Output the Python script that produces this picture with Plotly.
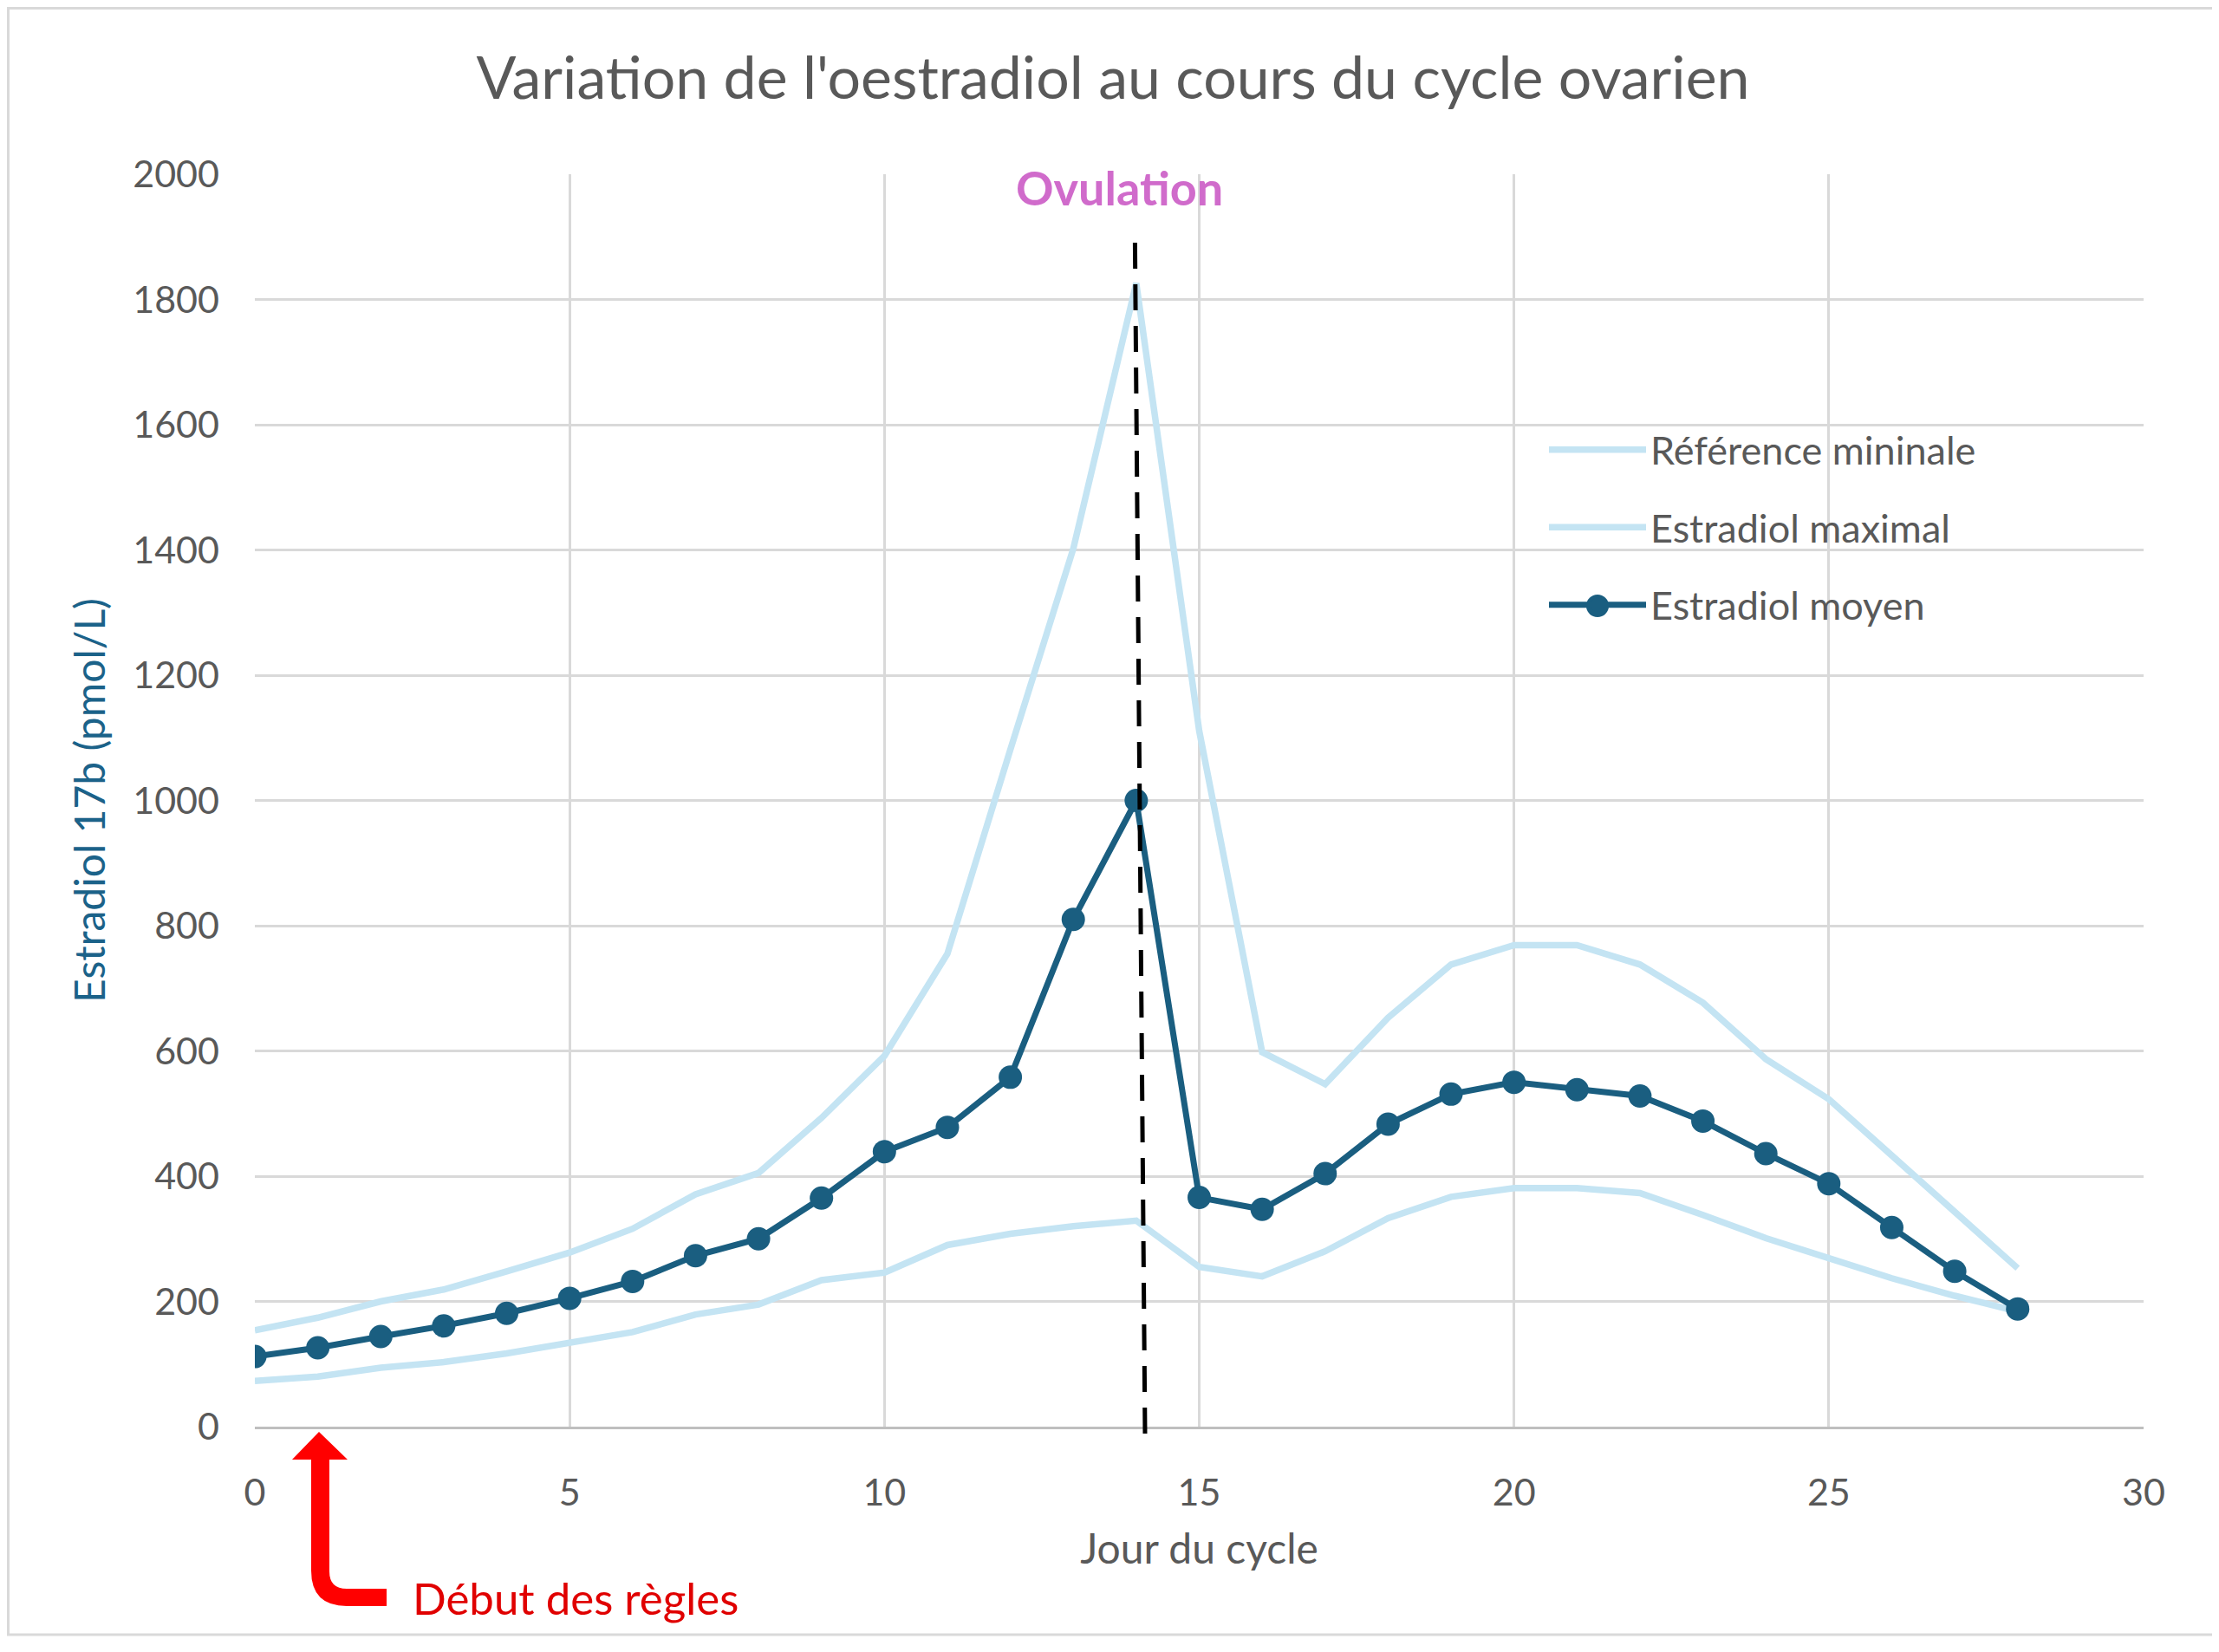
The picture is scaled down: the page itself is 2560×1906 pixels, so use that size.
import plotly.graph_objects as go

# ---------------- data ----------------
days = list(range(0, 29))
estradiol_min = [73, 80, 94, 103, 117, 133, 151, 179, 195, 234, 246, 290, 308, 320, 329,
                 255, 240, 280, 333, 367, 381, 381, 373, 338, 301, 269, 237, 209, 184]
estradiol_max = [154, 174, 200, 219, 248, 278, 316, 371, 405, 493, 592, 755, 1081, 1402, 1826,
                 1111, 598, 547, 653, 738, 769, 769, 738, 677, 587, 523, 433, 343, 253]
estradiol_mean = [112, 126, 144, 161, 181, 205, 232, 273, 300, 365, 439, 478, 558, 810, 1000,
                  366, 347, 404, 483, 531, 550, 538, 528, 488, 436, 388, 318, 248, 188]

series_names = ["Référence mininale", "Estradiol maximal", "Estradiol moyen"]
x_ticks = [0, 5, 10, 15, 20, 25, 30]
y_ticks = list(range(0, 2001, 200))

title_text = "Variation de l'oestradiol au cours du cycle ovarien"
x_title = "Jour du cycle"
y_title = "Estradiol 17b (pmol/L)"
ovulation_label = "Ovulation"
regles_label = "Début des règles"
ovulation_day = 14

# ---------------- layout geometry ----------------
OFF = 8  # page body margin
W, H = 2560 - OFF, 1906 - OFF
L, R, T, B = 294 - OFF, 87, 201 - OFF, 260
PW, PH = W - L - R, H - T - B

def px_x(p):
    return (p - OFF - L) / PW

def px_y(p):
    return (H - B - (p - OFF)) / PH

FONT = "Lato"
GRAY = "#595959"
DARK = "#1A5E80"
LIGHT = "#C4E4F3"
GRID = "#D9D9D9"

fig = go.Figure()
fig.add_trace(go.Scatter(x=days, y=estradiol_min, mode="lines", name=series_names[0],
                         legendgroup="a", line=dict(color=LIGHT, width=7.5)))
fig.add_trace(go.Scatter(x=days, y=estradiol_max, mode="lines", name=series_names[1],
                         legendgroup="b", line=dict(color=LIGHT, width=7.5)))
fig.add_trace(go.Scatter(x=days, y=estradiol_mean, mode="lines+markers", name=series_names[2],
                         legendgroup="c", line=dict(color=DARK, width=7),
                         marker=dict(color=DARK, size=27)))

# dashed ovulation line
fig.add_shape(type="line", xref="x", yref="paper",
              x0=ovulation_day - 0.02, y0=px_y(280), x1=ovulation_day + 0.14, y1=px_y(1660),
              line=dict(color="black", width=5, dash="30px,18px"))

# red bent arrow (paper coordinates computed from pixel geometry)
pts = [("M", 368, 1652), ("L", 401, 1684), ("L", 380, 1684), ("L", 380, 1813),
       ("Q", 380, 1833, 400, 1833), ("L", 446, 1833), ("L", 446, 1853), ("L", 400, 1853),
       ("Q", 359, 1853, 359, 1812), ("L", 359, 1684), ("L", 337, 1684)]
path = ""
for p in pts:
    cmd = p[0]
    coords = p[1:]
    s = []
    for i in range(0, len(coords), 2):
        s.append(f"{px_x(coords[i]):.5f},{px_y(coords[i+1]):.5f}")
    path += cmd + " " + " ".join(s) + " "
path += "Z"
fig.add_shape(type="path", xref="paper", yref="paper", path=path,
              fillcolor="#FF0000", line=dict(width=0))

# outer frame
fig.add_shape(type="rect", xref="paper", yref="paper",
              x0=px_x(OFF + 1.5), y0=px_y(OFF + 1.5), x1=px_x(2556), y1=px_y(1886),
              line=dict(color=GRID, width=3), layer="below")

# enlarged legend marker for the mean series (legend caps marker size)
fig.add_shape(type="circle", xref="paper", yref="paper",
              x0=px_x(1830), x1=px_x(1856), y0=px_y(712), y1=px_y(686),
              fillcolor=DARK, line=dict(width=0))

fig.add_annotation(x=ovulation_day - 0.26, y=px_y(217), xref="x", yref="paper",
                   text=f"<b>{ovulation_label}</b>", showarrow=False,
                   font=dict(family=FONT, size=54, color="#D06BCB"),
                   xanchor="center", yanchor="middle")
fig.add_annotation(x=px_x(474), y=px_y(1843), xref="paper", yref="paper",
                   text=regles_label, showarrow=False,
                   font=dict(family=FONT, size=51, color="#E00000"),
                   xanchor="left", yanchor="middle")

fig.update_layout(
    width=W, height=H,
    paper_bgcolor="white", plot_bgcolor="white",
    margin=dict(l=L, r=R, t=T, b=B),
    font=dict(family=FONT, color=GRAY, size=43),
    title=dict(text=title_text, x=0.5, xanchor="center", y=1 - (90 - OFF) / H, yanchor="middle",
               font=dict(family=FONT, size=68, color=GRAY)),
    showlegend=True,
    legend=dict(x=px_x(1782), y=px_y(483), xanchor="left", yanchor="top",
                font=dict(family=FONT, size=45, color=GRAY),
                bgcolor="rgba(255,255,255,0)", tracegroupgap=28, itemwidth=112),
)
fig.update_xaxes(range=[0, 30], tickvals=x_ticks, showgrid=True, gridcolor=GRID, gridwidth=3,
                 zeroline=False, showline=True, linecolor="#BFBFBF", linewidth=3,
                 ticks="", ticklabelstandoff=36,
                 tickfont=dict(family=FONT, size=43, color=GRAY),
                 title=dict(text=x_title, standoff=26, font=dict(family=FONT, size=48, color=GRAY)))
fig.update_yaxes(range=[0, 2000], tickvals=y_ticks, showgrid=True, gridcolor=GRID, gridwidth=3,
                 zeroline=False, showline=False, ticks="", ticklabelstandoff=40,
                 tickfont=dict(family=FONT, size=43, color=GRAY),
                 title=dict(text=y_title, standoff=16, font=dict(family=FONT, size=48, color="#1B6289")))

fig.write_html("out.html")
